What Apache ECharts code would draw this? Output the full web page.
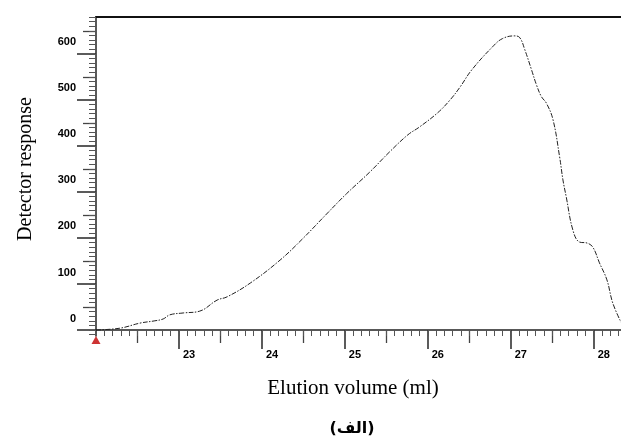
<!DOCTYPE html>
<html><head><meta charset="utf-8">
<script src="https://cdn.jsdelivr.net/npm/echarts@6/dist/echarts.min.js"></script>
<style>html,body{margin:0;padding:0;background:#fff}#c{width:621px;height:442px}</style>
</head><body><div id="c"></div>
<script>
const elutionVolume = [22.00,22.29,22.53,22.71,22.81,22.89,23.05,23.25,23.46,23.58,23.86,24.22,24.49,24.78,25.02,25.30,25.54,25.76,25.90,26.12,26.27,26.39,26.53,26.78,26.90,27.05,27.11,27.17,27.25,27.31,27.37,27.43,27.51,27.59,27.63,27.67,27.75,27.83,27.92,27.99,28.07,28.16,28.23,28.33];
const response = [0,4,15,20,24,33,37,41,65,72,102,152,198,252,296,343,387,424,441,472,500,528,565,615,633,639,635,609,566,533,507,493,457,376,326,289,217,191,189,180,146,109,59,17];
const xMajorTicks = [23,24,25,26,27,28];
const yMajorTicks = [0,100,200,300,400,500,600];
const xMin = 22, xMax = 28.33, yMin = -13, yMax = 680;

const xMid = [], xMinor = [], yMid = [], yMinor = [];
for (let i = 221; i <= 283; i++) xMinor.push(i / 10);
for (let i = 22; i < 28; i++) xMid.push(i + 0.5);
for (let v = -10; v <= 680; v += 10) yMinor.push(v);
for (let v = 50; v <= 650; v += 100) yMid.push(v);

const labelFont = {fontFamily: 'Liberation Sans, Arial, sans-serif', fontWeight: 'bold', fontSize: 11, color: '#000'};

function xAx(ticks, len, w, color, extra) {
  return Object.assign({
    type: 'value', min: xMin, max: xMax, position: 'bottom', offset: 0,
    axisLine: {show: false}, splitLine: {show: false},
    axisLabel: {show: false},
    axisTick: {show: true, customValues: ticks, length: len, lineStyle: {color: color, width: w}}
  }, extra || {});
}
function yAx(ticks, len, w, color, extra) {
  return Object.assign({
    type: 'value', min: yMin, max: yMax, position: 'left', offset: 0,
    axisLine: {show: false}, splitLine: {show: false},
    axisLabel: {show: false},
    axisTick: {show: true, customValues: ticks, length: len, lineStyle: {color: color, width: w}}
  }, extra || {});
}

const chart = echarts.init(document.getElementById('c'), null, {renderer: 'canvas'});
chart.setOption({
  animation: false,
  backgroundColor: '#fff',
  grid: {left: 96, right: 0, top: 17, bottom: 106, containLabel: false},
  xAxis: [
    xAx(xMajorTicks, 19, 1.6, '#333', {
      axisLine: {show: true, lineStyle: {color: '#222', width: 1.5}},
      axisLabel: Object.assign({show: true, customValues: xMajorTicks, margin: 13, align: 'left', padding: [0, 0, 0, 4]}, labelFont)
    }),
    xAx(xMid, 13, 1.3, '#444'),
    xAx(xMinor, 6, 1, '#555'),
    {type: 'value', min: xMin, max: xMax, position: 'top', axisLine: {show: true, lineStyle: {color: '#111', width: 2}},
     axisTick: {show: false}, axisLabel: {show: false}, splitLine: {show: false}}
  ],
  yAxis: [
    yAx(yMajorTicks, 19, 1.6, '#333', {
      axisLine: {show: true, lineStyle: {color: '#222', width: 1.5}},
      axisLabel: Object.assign({show: true, customValues: yMajorTicks, margin: 20, verticalAlign: 'bottom', padding: [0, 0, 6, 0]}, labelFont)
    }),
    yAx(yMid, 13, 1.3, '#444'),
    yAx(yMinor, 7, 1, '#555')
  ],
  graphic: [
    {type: 'text', x: 26, y: 169, rotation: Math.PI / 2,
     style: {text: 'Detector response', font: '20px "Liberation Serif", "Times New Roman", serif', fill: '#000', align: 'center', verticalAlign: 'middle'}},
    {type: 'text', x: 353, y: 388, style: {text: 'Elution volume (ml)', font: '21px "Liberation Serif", "Times New Roman", serif', fill: '#000', align: 'center', verticalAlign: 'middle'}},
    {type: 'text', x: 352, y: 429, style: {text: '(الف)', font: 'bold 16px "DejaVu Sans", sans-serif', fill: '#000', align: 'center', verticalAlign: 'middle'}}
  ],
  series: [
    {type: 'line', xAxisIndex: 0, yAxisIndex: 0, smooth: 0.4, symbol: 'none',
     lineStyle: {color: '#222', width: 1, type: [5, 1.5, 1.5, 1.5]},
     data: elutionVolume.map((v, i) => [v, response[i]])},
    {type: 'scatter', xAxisIndex: 0, yAxisIndex: 0, clip: false, symbol: 'triangle', symbolSize: [9, 8], symbolOffset: [0, 4],
     itemStyle: {color: '#c00000'}, data: [[xMin, yMin]], z: 5}
  ]
});
</script></body></html>
